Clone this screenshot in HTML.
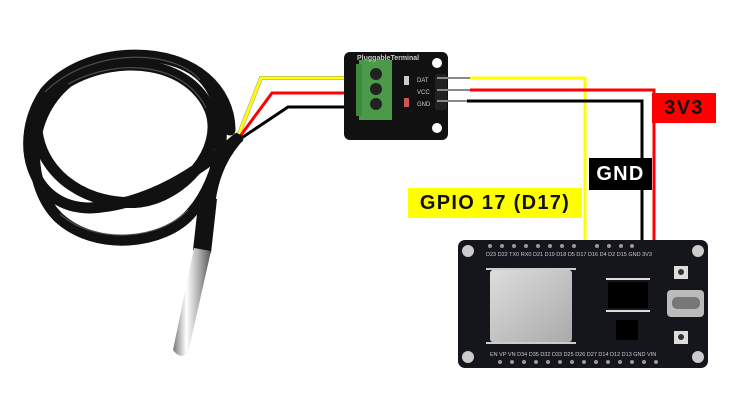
<!DOCTYPE html>
<html><head><meta charset="utf-8"><style>
html,body{margin:0;padding:0;background:#fff;width:740px;height:416px;overflow:hidden}
.lbl{position:absolute;font-family:"Liberation Sans",sans-serif;font-weight:bold;font-size:20px;line-height:30px;letter-spacing:1.3px}
</style></head><body>
<svg width="740" height="416" style="position:absolute;left:0;top:0">
<defs>
<linearGradient id="met" x1="0" x2="1" y1="0" y2="0">
<stop offset="0" stop-color="#777"/><stop offset="0.35" stop-color="#fff"/><stop offset="0.7" stop-color="#aaa"/><stop offset="1" stop-color="#555"/></linearGradient>
<linearGradient id="mod" x1="0" x2="1" y1="0" y2="1"><stop offset="0" stop-color="#ddd"/><stop offset="1" stop-color="#aaa"/></linearGradient>
</defs>
<!-- cable coil -->
<g fill="none" stroke="#111" stroke-width="11" stroke-linecap="round">
<path d="M238,138 C200,170 150,205 90,208 C30,208 12,140 45,92 C85,45 175,45 205,80 C235,115 220,180 192,212 C165,245 95,252 58,217"/>
<path d="M58,217 C28,187 22,120 68,82 C120,52 190,62 210,110 C225,150 182,197 140,202 C90,207 42,177 37,130"/>
<path d="M236,140 C215,165 212,190 210,200"/>
<path d="M37,130 C37,98 80,58 140,56 C195,56 230,90 230,130"/>
</g>
<g fill="none" stroke="#666" stroke-width="1.2" opacity="0.7">
<path d="M45,92 C88,49 172,47 200,80"/><path d="M68,84 C120,56 185,64 206,108"/><path d="M60,214 C95,245 160,240 188,210"/>
</g>
<!-- probe -->
<path d="M199,196 L217,199 L211,253 L193,250 Z" fill="#111"/>
<path d="M194,248 L211,251 L188,353 Q180,360 173,350 Z" fill="url(#met)"/>
<!-- left wires -->
<polyline points="239,134 261,78 346,78" fill="none" stroke="#999" stroke-width="4"/>
<polyline points="239,134 261,78 346,78" fill="none" stroke="#ff0" stroke-width="3"/>
<polyline points="241,135 272,93 346,93" fill="none" stroke="#f00" stroke-width="3"/>
<polyline points="243,137 288,107 346,107" fill="none" stroke="#000" stroke-width="3"/>
<!-- terminal module -->
<rect x="344" y="52" width="104" height="88" rx="6" fill="#111"/>
<circle cx="437" cy="63" r="5" fill="#fff"/><circle cx="437" cy="128" r="5" fill="#fff"/>
<rect x="359" y="60" width="33" height="60" fill="#4a9a4a"/>
<rect x="356" y="64" width="6" height="52" fill="#3c8a3c"/>
<circle cx="376" cy="74" r="6" fill="#222"/><circle cx="376" cy="89" r="6" fill="#222"/><circle cx="376" cy="104" r="6" fill="#222"/>
<rect x="404" y="76" width="5" height="9" fill="#ccc"/><rect x="404" y="98" width="5" height="9" fill="#c55"/>
<text x="357" y="60" font-family="Liberation Sans" font-size="7" fill="#ccc" font-weight="bold">PluggableTerminal</text>
<text x="417" y="82" font-family="Liberation Sans" font-size="6" fill="#ccc">DAT</text>
<text x="417" y="94" font-family="Liberation Sans" font-size="6" fill="#ccc">VCC</text>
<text x="417" y="106" font-family="Liberation Sans" font-size="6" fill="#ccc">GND</text>
<rect x="435" y="74" width="12" height="36" rx="3" fill="#222"/>
<line x1="437" y1="78" x2="470" y2="78" stroke="#888" stroke-width="2"/>
<line x1="437" y1="90" x2="470" y2="90" stroke="#888" stroke-width="2"/>
<line x1="437" y1="101" x2="470" y2="101" stroke="#888" stroke-width="2"/>
<!-- right wires -->
<polyline points="470,78 585,78 585,246" fill="none" stroke="#ff0" stroke-width="3"/>
<polyline points="470,90 654,90 654,248" fill="none" stroke="#f00" stroke-width="3"/>
<polyline points="467,101 642,101 642,248" fill="none" stroke="#000" stroke-width="3"/>
<!-- ESP board -->
<rect x="458" y="240" width="250" height="128" rx="7" fill="#15151c"/>
<circle cx="468" cy="251" r="6" fill="#ccc"/><circle cx="698" cy="251" r="6" fill="#ccc"/>
<circle cx="468" cy="357" r="6" fill="#ccc"/><circle cx="698" cy="357" r="6" fill="#ccc"/>
<g fill="#999">
<circle cx="490" cy="246" r="2"/><circle cx="502" cy="246" r="2"/><circle cx="514" cy="246" r="2"/><circle cx="526" cy="246" r="2"/><circle cx="538" cy="246" r="2"/><circle cx="550" cy="246" r="2"/><circle cx="562" cy="246" r="2"/><circle cx="574" cy="246" r="2"/><circle cx="597" cy="246" r="2"/><circle cx="609" cy="246" r="2"/><circle cx="621" cy="246" r="2"/><circle cx="632" cy="246" r="2"/>
<circle cx="500" cy="362" r="2"/><circle cx="512" cy="362" r="2"/><circle cx="524" cy="362" r="2"/><circle cx="536" cy="362" r="2"/><circle cx="548" cy="362" r="2"/><circle cx="560" cy="362" r="2"/><circle cx="572" cy="362" r="2"/><circle cx="584" cy="362" r="2"/><circle cx="596" cy="362" r="2"/><circle cx="608" cy="362" r="2"/><circle cx="620" cy="362" r="2"/><circle cx="632" cy="362" r="2"/><circle cx="644" cy="362" r="2"/><circle cx="656" cy="362" r="2"/>
</g>
<text x="486" y="256" font-family="Liberation Sans" font-size="5.5" fill="#ccc">D23 D22 TX0 RX0 D21 D19 D18 D5 D17 D16 D4 D2 D15 GND 3V3</text>
<text x="490" y="356" font-family="Liberation Sans" font-size="5.5" fill="#ccc">EN VP VN D34 D35 D32 D33 D25 D26 D27 D14 D12 D13 GND VIN</text>
<rect x="490" y="270" width="82" height="72" rx="3" fill="url(#mod)"/>
<g fill="#ccc"><rect x="486" y="268" width="90" height="2"/><rect x="486" y="342" width="90" height="2"/></g>
<rect x="608" y="282" width="40" height="26" fill="#000"/>
<g fill="#ddd"><rect x="606" y="278" width="44" height="2"/><rect x="606" y="310" width="44" height="2"/></g>
<rect x="616" y="320" width="22" height="20" fill="#000"/>
<rect x="667" y="290" width="37" height="27" rx="4" fill="#bbb"/>
<rect x="672" y="297" width="28" height="12" rx="5" fill="#777"/>
<rect x="674" y="266" width="14" height="13" fill="#ddd"/><rect x="674" y="331" width="14" height="13" fill="#ddd"/>
<circle cx="681" cy="272" r="3" fill="#333"/><circle cx="681" cy="337" r="3" fill="#333"/>
</svg>
<div class="lbl" style="left:652px;top:93px;width:64px;height:30px;background:#f00;color:#111;text-align:center">3V3</div>
<div class="lbl" style="left:589px;top:158px;width:63px;height:32px;line-height:32px;background:#000;color:#fff;text-align:center">GND</div>
<div class="lbl" style="left:408px;top:188px;width:174px;height:30px;background:#ff0;color:#111;text-align:center">GPIO 17 (D17)</div>
</body></html>
